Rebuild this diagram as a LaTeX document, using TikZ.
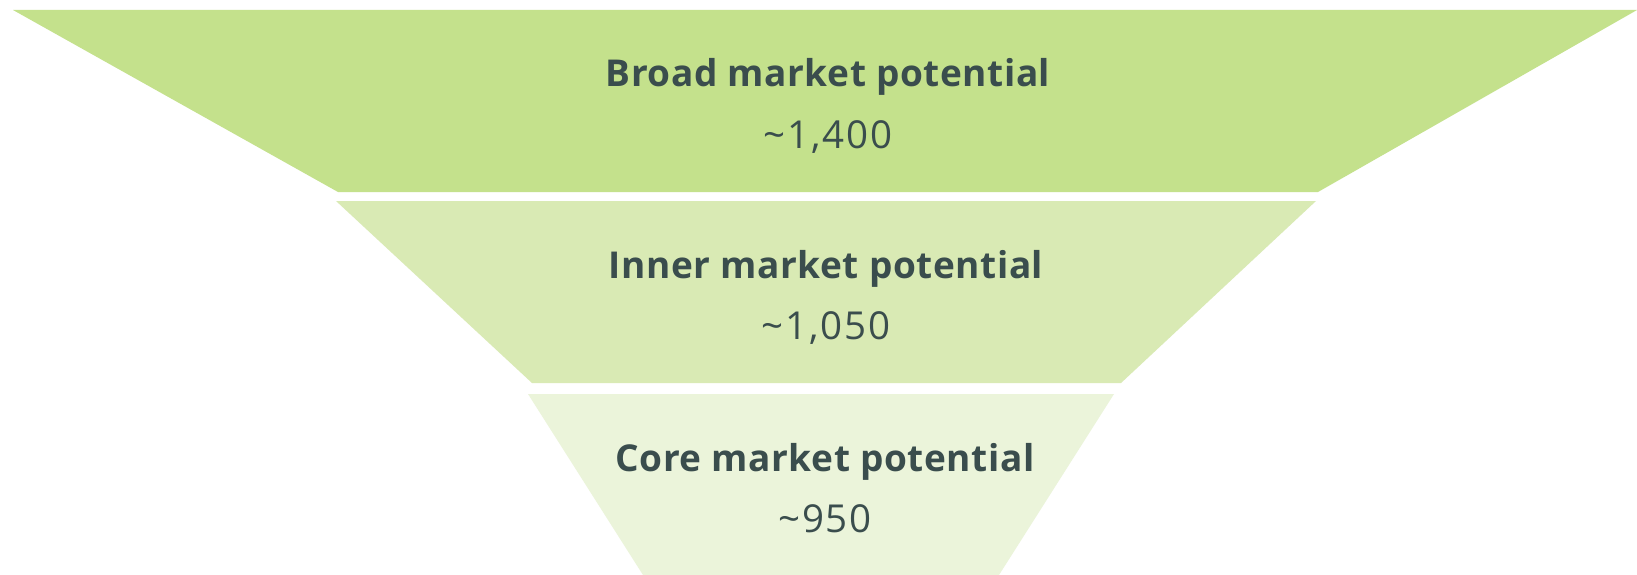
\documentclass[tikz,border=0pt]{standalone}
\usepackage{fontspec}
\setmainfont{Open Sans}
\newfontfamily\titlefont[LetterSpace=1.5]{Open Sans}
\newfontfamily\valuefont[LetterSpace=5]{Open Sans}
\definecolor{bandA}{HTML}{C4E18C}
\definecolor{bandB}{HTML}{D9EAB4}
\definecolor{bandC}{HTML}{EBF4DA}
\definecolor{txt}{HTML}{3A4D4D}
\begin{document}
\begin{tikzpicture}[x=1pt,y=-1pt,
  title/.style={anchor=base,text=txt,font=\titlefont\fontsize{37}{44}\selectfont\bfseries,inner sep=0pt},
  value/.style={anchor=base,text=txt,font=\valuefont\fontsize{38.5}{44}\selectfont,inner sep=0pt}]
\useasboundingbox[fill=white] (0,0) rectangle (1637,575);
\fill[bandA] (13,10) -- (1637,10) -- (1318,192) -- (338,192) -- cycle;
\fill[bandB] (336,201) -- (1316,201) -- (1121,383) -- (532,383) -- cycle;
\fill[bandC] (528,394) -- (1114,394) -- (999,575) -- (643,575) -- cycle;
\node[title] (t1) at (828,87) {Broad market potential};
\node[value] (v1) at (828,148) {\textasciitilde1,400};
\node[title] (t2) at (826,278) {Inner market potential};
\node[value] (v2) at (826,339) {\textasciitilde1,050};
\node[title] (t3) at (825,471) {Core market potential};
\node[value] (v3) at (825,532) {\textasciitilde950};
\end{tikzpicture}
\end{document}
